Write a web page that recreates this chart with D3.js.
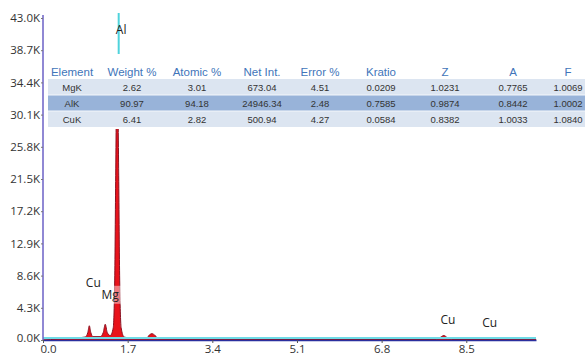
<!DOCTYPE html>
<html>
<head>
<meta charset="utf-8">
<script src="https://cdn.jsdelivr.net/npm/d3@7"></script>
<style>
  body { margin: 0; background: #fff; }
  svg { display: block; }
</style>
</head>
<body>
<div class="chart"></div>
<script>
// spectrum: [keV, counts in K]
const spectrum = [
  [0.0, 0], [0.15, 0.05], [0.3, 0.2], [0.5, 0.25], [0.7, 0.3], [0.85, 0.4],
  [0.9, 1.0], [0.93, 1.9], [0.96, 1.0], [1.0, 0.45], [1.15, 0.45],
  [1.21, 1.0], [1.25, 2.1], [1.29, 1.0], [1.35, 0.6], [1.41, 1.6],
  [1.44, 8], [1.46, 22], [1.48, 34], [1.50, 34], [1.52, 22], [1.54, 8],
  [1.57, 1.6], [1.63, 0.4], [1.8, 0.2], [2.08, 0.25], [2.14, 0.7], [2.19, 0.85],
  [2.25, 0.6], [2.33, 0.15], [3.0, 0.12], [5.0, 0.08], [7.9, 0.08],
  [7.98, 0.35], [8.05, 0.6], [8.12, 0.3], [8.2, 0.06], [9.9, 0.04]
];

const yTicks = [0, 4.3, 8.6, 12.9, 17.2, 21.5, 25.8, 30.1, 34.4, 38.7, 43.0];
const xTicks = [0, 1.7, 3.4, 5.1, 6.8, 8.5];

// element labels: name, keV, K counts (baseline)
const labels = [
  {name: "Al", e: 1.57, v: 40.9, box: false},
  {name: "Mg", e: 1.35, v: 5.5, box: true},
  {name: "Cu", e: 1.01, v: 7.1, box: false},
  {name: "Cu", e: 8.13, v: 2.15, box: false},
  {name: "Cu", e: 8.97, v: 1.75, box: false}
];

const tableCols = ["Element", "Weight %", "Atomic %", "Net Int.", "Error %", "Kratio", "Z", "A", "F"];
const tableRows = [
  ["MgK", "2.62", "3.01", "673.04", "4.51", "0.0209", "1.0231", "0.7765", "1.0069"],
  ["AlK", "90.97", "94.18", "24946.34", "2.48", "0.7585", "0.9874", "0.8442", "1.0002"],
  ["CuK", "6.41", "2.82", "500.94", "4.27", "0.0584", "0.8382", "1.0033", "1.0840"]
];

const width = 585, height = 356;
const svg = d3.select(".chart").append("svg").attr("width", width).attr("height", height);

const x = d3.scaleLinear().domain([0, 9.9]).range([43, 536]);
const y = d3.scaleLinear().domain([0, 43]).range([340, 18]);

// Al marker line
svg.append("line")
  .attr("x1", x(1.52)).attr("x2", x(1.52))
  .attr("y1", 13).attr("y2", 54)
  .attr("stroke", "#4fd3dc").attr("stroke-width", 2);

// spectrum area
const area = d3.area().x(d => x(d[0])).y0(y(0)).y1(d => y(d[1])).curve(d3.curveMonotoneX);
svg.append("path")
  .datum(spectrum)
  .attr("d", area)
  .attr("fill", "#e8131b")
  .attr("stroke", "#8a1020")
  .attr("stroke-width", 1);

// cyan baseline just above axis
svg.append("line")
  .attr("x1", x(0)).attr("x2", x(9.9))
  .attr("y1", y(0) - 2).attr("y2", y(0) - 2)
  .attr("stroke", "#6fdbe6").attr("stroke-width", 2);

// x axis
const xAxis = svg.append("g").attr("transform", "translate(0," + y(0) + ")")
  .call(d3.axisBottom(x).tickValues(xTicks).tickFormat(d3.format(".1f")).tickSize(3).tickSizeOuter(0));
xAxis.select(".domain").attr("stroke", "#2b2f9e").attr("stroke-width", 1.5);
xAxis.selectAll(".tick line").attr("stroke", "#555");
xAxis.selectAll("text").attr("font-family", "Open Sans").attr("font-size", 11.5).attr("fill", "#333").attr("dy", "0.6em")
  .attr("dx", d => d === 0 ? 5 : 0);

// y axis
const yAxis = svg.append("g").attr("transform", "translate(" + x(0) + ",0)")
  .call(d3.axisLeft(y).tickValues(yTicks).tickFormat(d => d3.format(".1f")(d) + "K").tickSize(2).tickSizeOuter(0));
yAxis.select(".domain").attr("stroke", "#6b60c6").attr("stroke-width", 1.5)
  .attr("d", "M0," + 15 + "V" + y(0));
yAxis.selectAll(".tick line").attr("stroke", "#777");
yAxis.selectAll("text").attr("font-family", "Open Sans").attr("font-size", 11.5).attr("fill", "#333").attr("x", -3)
  .attr("dy", d => d === 0 ? "0.1em" : "0.32em");

// table
const colX = [72, 132, 197, 262, 320, 381, 445, 513, 568];
const table = svg.append("g");
table.append("rect").attr("x", 46).attr("y", 63).attr("width", width - 46).attr("height", 66).attr("fill", "#fff");
table.selectAll(".row")
  .data(tableRows)
  .join("rect")
  .attr("x", 48).attr("y", (d, i) => 79 + i * 16)
  .attr("width", width - 48).attr("height", 16)
  .attr("fill", (d, i) => i === 1 ? "#98b3d9" : "#dce5f1");
table.selectAll(".row-sep")
  .data([95, 111])
  .join("line")
  .attr("x1", 48).attr("x2", width).attr("y1", d => d).attr("y2", d => d)
  .attr("stroke", "#f4f7fb").attr("stroke-width", 1);
table.selectAll(".head")
  .data(tableCols)
  .join("text")
  .attr("x", (d, i) => colX[i]).attr("y", 76)
  .attr("text-anchor", "middle")
  .attr("font-family", "Liberation Sans").attr("font-size", 11.5)
  .attr("fill", "#4175ba")
  .text(d => d);
tableRows.forEach((row, r) => {
  table.selectAll(".cell" + r)
    .data(row)
    .join("text")
    .attr("x", (d, i) => colX[i]).attr("y", 90.5 + r * 16)
    .attr("text-anchor", "middle")
    .attr("font-family", "Liberation Sans").attr("font-size", 9.5)
    .attr("fill", "#333")
    .text(d => d);
});

// element labels
const lab = svg.append("g").selectAll("g").data(labels).join("g")
  .attr("transform", d => "translate(" + x(d.e) + "," + y(d.v) + ")");
lab.filter(d => d.box).append("rect")
  .attr("x", -12).attr("y", -13).attr("width", 24).attr("height", 18)
  .attr("fill", "#fff").attr("opacity", 0.45);
lab.append("text")
  .attr("text-anchor", "middle")
  .attr("font-family", "Open Sans").attr("font-size", 12)
  .attr("fill", "#222")
  .text(d => d.name);
</script>
</body>
</html>
